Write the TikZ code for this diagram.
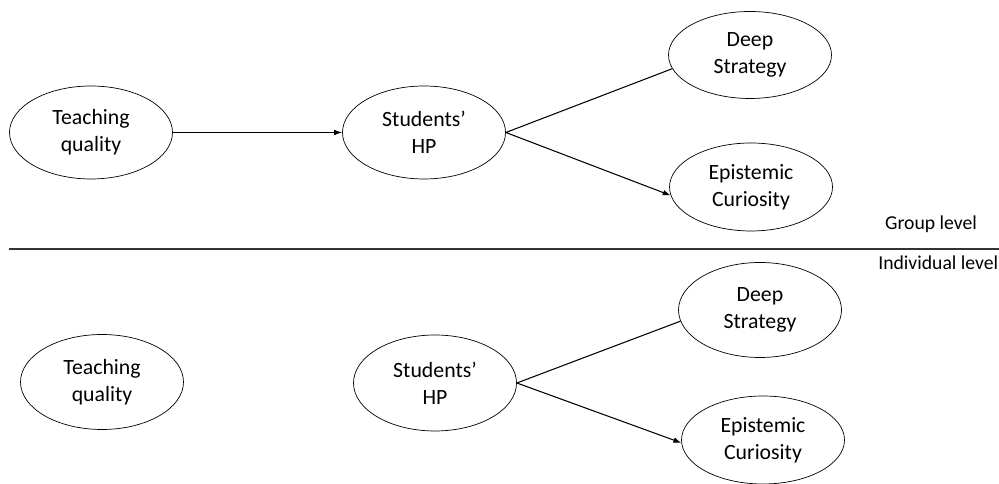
\documentclass[tikz,border=0pt]{standalone}
\usepackage{fontspec}
\setmainfont{Carlito}
\usetikzlibrary{arrows.meta,shapes.geometric}
\begin{document}
\begin{tikzpicture}[
  latent/.style={draw, ellipse, align=center, inner sep=0pt, minimum width=3.26cm, minimum height=1.86cm, font=\fontsize{12.4}{15.2}\selectfont},
  effect/.style={semithick, -{Latex[length=4.5pt,width=3.2pt]}},
  level/.style={font=\fontsize{11.2}{13}\selectfont}
]
\useasboundingbox (0,0) rectangle (19.98,9.68);

% group level
\node (0) at (1.82,7.03) [latent] {Teaching\\quality};
\node (1) at (8.48,7.03) [latent] {Students'\\HP};
\node (2) at (15.0,8.58) [latent, minimum height=1.74cm] {Deep\\Strategy};
\node (3) at (15.02,5.94) [latent, minimum height=1.76cm] {Epistemic\\Curiosity};
\node (g) at (17.58,5.2) [level, anchor=west] {Group level};

\draw[effect] (0) to (1);
\draw[effect]
(1.east) to (2.190)
(1.east) to (3.186);

% separator
\coordinate (l) at (0.18,4.7);
\coordinate (r) at (19.98,4.7);
\draw[line width=1pt, black!80] (l) -- (r);

% individual level
\node (i) at (19.97,4.42) [level, anchor=east, inner xsep=0pt] {Individual level};
\node (4) at (2.04,2.04) [latent, minimum height=1.9cm] {Teaching\\quality};
\node (5) at (8.70,2.02) [latent, minimum height=1.92cm] {Students'\\HP};
\node (6) at (15.2,3.48) [latent, minimum height=1.9cm] {Deep\\Strategy};
\node (7) at (15.26,0.88) [latent, minimum height=1.76cm] {Epistemic\\Curiosity};

\draw[effect]
(5.east) to (6.188)
(5.east) to (7.182);
\end{tikzpicture}
\end{document}
